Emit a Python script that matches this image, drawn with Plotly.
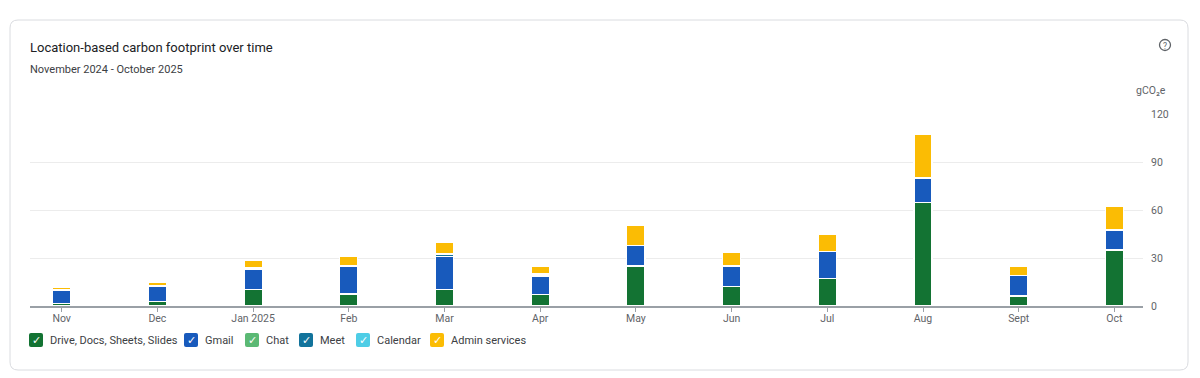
import plotly.graph_objects as go

months = ["Nov", "Dec", "Jan 2025", "Feb", "Mar", "Apr", "May", "Jun", "Jul", "Aug", "Sept", "Oct"]
drive = [1.5, 3.0, 10.5, 7.5, 10.5, 7.3, 25.0, 12.0, 17.0, 64.5, 6.2, 35.0]
gmail = [8.5, 9.5, 12.5, 17.0, 20.5, 11.5, 13.0, 13.0, 17.0, 15.5, 12.8, 12.5]
chat = [0, 0, 0, 0, 0, 0, 0, 0, 0, 0, 0, 0]
meet = [0.3, 0.3, 0.8, 1.0, 1.5, 1.2, 0, 0, 0, 0, 0, 0]
calendar = [0, 0, 0, 0, 0, 0, 0, 0, 0, 0, 0, 0]
admin = [1.5, 2.0, 4.5, 5.5, 7.0, 4.5, 12.5, 8.5, 11.0, 27.5, 5.5, 15.0]

series_names = ["Drive, Docs, Sheets, Slides", "Gmail", "Chat", "Meet", "Calendar", "Admin services"]
series_values = [drive, gmail, chat, meet, calendar, admin]
series_colors = ["#137333", "#185abc", "#5bb974", "#12739b", "#4ecde6", "#fbbc04"]
y_ticks = [0, 30, 60, 90, 120]

# the page body has an 8px margin; work in screen pixels and subtract it
OFF = 8
W, H = 1200 - OFF, 378 - OFF
L, R, T, B = 30, 1143, 114, 306  # plot area in screen pixels
FONT = "Roboto, Arial, sans-serif"


def px(x):
    return (x - L) / (R - L)


def py(y):
    return (B - y) / (B - T)


fig = go.Figure()
for name, vals, col in zip(series_names, series_values, series_colors):
    fig.add_trace(go.Bar(
        x=months, y=vals, name=name,
        marker=dict(color=col, line=dict(color="white", width=1.2)),
        width=0.19, showlegend=False,
    ))

shapes = []
annotations = []


def rrect(x0, y0, x1, y1, r):
    return (f"M {px(x0 + r)} {py(y0)} L {px(x1 - r)} {py(y0)} "
            f"Q {px(x1)} {py(y0)} {px(x1)} {py(y0 + r)} L {px(x1)} {py(y1 - r)} "
            f"Q {px(x1)} {py(y1)} {px(x1 - r)} {py(y1)} L {px(x0 + r)} {py(y1)} "
            f"Q {px(x0)} {py(y1)} {px(x0)} {py(y1 - r)} L {px(x0)} {py(y0 + r)} "
            f"Q {px(x0)} {py(y0)} {px(x0 + r)} {py(y0)} Z")


shapes.append(dict(type="path", xref="paper", yref="paper", path=rrect(10, 20, 1188, 370, 8),
                   line=dict(color="#dadce0", width=1), fillcolor="rgba(0,0,0,0)", layer="below"))
shapes.append(dict(type="path", xref="paper", yref="paper", path=rrect(407, -30, 792, 5, 6),
                   line=dict(color="#dadce0", width=1), fillcolor="rgba(0,0,0,0)", layer="below"))
shapes.append(dict(type="path", xref="paper", yref="paper", path=rrect(805, -30, 1190, 5, 6),
                   line=dict(color="#dadce0", width=1), fillcolor="rgba(0,0,0,0)", layer="below"))

annotations.append(dict(text="Location-based carbon footprint over time", xref="paper", yref="paper",
                        x=px(28), y=py(47), xanchor="left", yanchor="middle", showarrow=False,
                        font=dict(family=FONT, size=13, color="#202124")))
annotations.append(dict(text="November 2024 - October 2025", xref="paper", yref="paper",
                        x=px(28), y=py(69), xanchor="left", yanchor="middle", showarrow=False,
                        font=dict(family=FONT, size=11, color="#3c4043")))
shapes.append(dict(type="circle", xref="paper", yref="paper", x0=px(1159.5), x1=px(1170.5), y0=py(39.5), y1=py(50.5),
                   line=dict(color="#5f6368", width=1.3)))
annotations.append(dict(text="?", xref="paper", yref="paper", x=px(1165), y=py(45.5),
                        xanchor="center", yanchor="middle", showarrow=False,
                        font=dict(family=FONT, size=8.5, color="#5f6368")))
annotations.append(dict(text="gCO₂e", xref="paper", yref="paper", x=px(1168), y=py(90),
                        xanchor="right", yanchor="middle", showarrow=False,
                        font=dict(family=FONT, size=10.5, color="#5f6368")))

legend_x = [29, 184, 245, 299, 356, 430]
ly = 340
for name, col, lx in zip(series_names, series_colors, legend_x):
    shapes.append(dict(type="path", xref="paper", yref="paper", path=rrect(lx, ly - 7, lx + 14, ly + 7, 2),
                       line=dict(color=col, width=0), fillcolor=col))
    annotations.append(dict(text="✓", xref="paper", yref="paper", x=px(lx + 7), y=py(ly),
                            xanchor="center", yanchor="middle", showarrow=False,
                            font=dict(family="DejaVu Sans", size=11, color="white")))
    annotations.append(dict(text=name, xref="paper", yref="paper", x=px(lx + 19), y=py(ly),
                            xanchor="left", yanchor="middle", showarrow=False,
                            font=dict(family=FONT, size=11, color="#3c4043")))

spacing = 95.7
a = -(61.7 - L) / spacing
b = a + (R - L) / spacing

fig.update_layout(
    width=W, height=H,
    margin=dict(l=L - OFF, r=W - (R - OFF), t=T - OFF, b=H - (B - OFF), pad=0),
    barmode="stack",
    plot_bgcolor="white", paper_bgcolor="white",
    font=dict(family=FONT, size=10.5, color="#5f6368"),
    shapes=shapes, annotations=annotations,
    xaxis=dict(type="category", range=[a, b], showgrid=False, zeroline=False,
               showline=True, linecolor="#9aa0a6", linewidth=1.5,
               ticks="outside", ticklen=4, tickcolor="#9aa0a6", tickwidth=1,
               ticklabelstandoff=-2,
               tickfont=dict(family=FONT, size=10.5, color="#5f6368"), fixedrange=True),
    yaxis=dict(side="right", range=[0, 120], tickvals=y_ticks, showgrid=True, gridcolor="#ececec",
               gridwidth=1, zeroline=False, showline=False, ticklabelstandoff=7,
               tickfont=dict(family=FONT, size=10.5, color="#5f6368"), fixedrange=True),
)

fig.write_html("out.html")
